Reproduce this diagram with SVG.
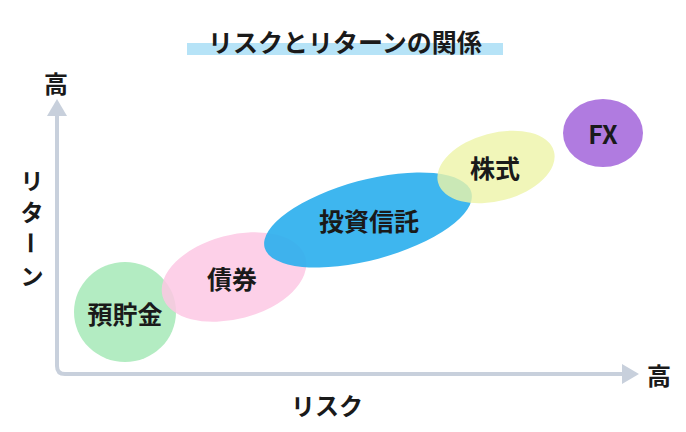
<svg xmlns="http://www.w3.org/2000/svg" width="686" height="432" viewBox="0 0 686 432">
<style>
text{font-family:"Noto Sans CJK JP","Noto Sans",sans-serif;font-weight:bold;fill:#1a1a1a;text-anchor:middle;dominant-baseline:central}
.l{font-size:25px}
.ax{stroke:#c8d0dc;stroke-width:4;fill:none;stroke-linecap:round}
.ah{fill:#c8d0dc}
</style>
<rect width="686" height="432" fill="#fff"/>
<rect x="187" y="43" width="316" height="12" fill="#b6e3f7"/>
<text x="345" y="41" font-size="25">リスクとリターンの関係</text>
<g id="axes">
<path class="ax" d="M57 114 V366 Q57 374 65 374 H624"/>
<polygon class="ah" points="57,99 47,116 67,116"/>
<polygon class="ah" points="639,374 622,364 622,384"/>
</g>
<text x="56" y="82" font-size="24">高</text>
<text x="659" y="374" font-size="24">高</text>
<text x="327" y="404" font-size="24">リスク</text>
<g font-size="23">
<text x="32" y="180">リ</text>
<text x="32" y="211">タ</text>
<text x="32" y="243" transform="rotate(90 32 243)">ー</text>
<text x="32" y="275">ン</text>
</g>
<g id="n1"><ellipse cx="125" cy="312" rx="51" ry="50" fill="#b3ecc2"/></g>
<g id="n2" opacity="0.85"><ellipse cx="234" cy="277" rx="74" ry="42" transform="rotate(-15 234 277)" fill="#fdc8e4"/></g>
<g id="n3" opacity="0.92"><ellipse cx="368" cy="220" rx="107" ry="40" transform="rotate(-15 368 220)" fill="#2eb0ee"/></g>
<g id="n4" opacity="0.8"><ellipse cx="496" cy="167" rx="60" ry="34" transform="rotate(-15 496 167)" fill="#eef5a8"/></g>
<g id="n5"><ellipse cx="603" cy="133" rx="40" ry="34" fill="#b07be0"/></g>
<text class="l" x="125" y="313">預貯金</text>
<text class="l" x="232" y="278">債券</text>
<text class="l" x="369" y="220">投資信託</text>
<text class="l" x="495" y="167">株式</text>
<text class="l" x="603" y="133">FX</text>
</svg>
